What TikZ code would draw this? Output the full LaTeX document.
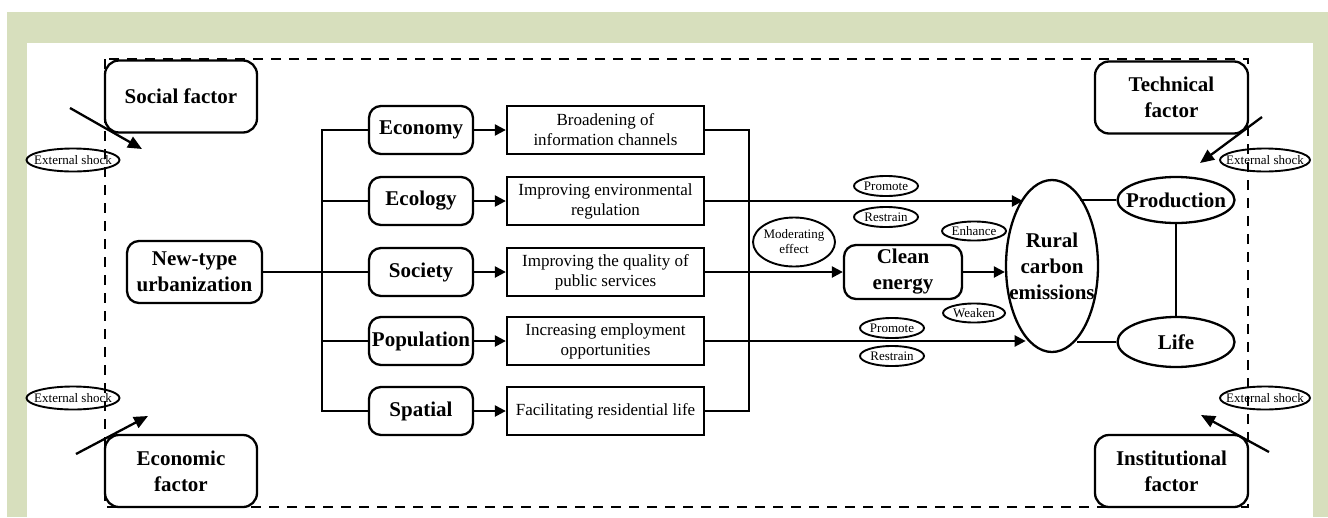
\documentclass[tikz,border=0pt]{standalone}
\usepackage{fontspec}
\setmainfont{Liberation Serif}
\usetikzlibrary{shapes.geometric,arrows.meta}
\definecolor{panel}{RGB}{215,223,189}
\newcommand\lblbig{\fontsize{21}{26}\selectfont\bfseries}
\newcommand\lblmid{\fontsize{17}{20}\selectfont}
\newcommand\lbltag{\fontsize{13}{15}\selectfont}
\begin{document}
\begin{tikzpicture}[x=1pt,y=-1pt,
  factor/.style={draw,line width=2.3pt,rounded corners=14pt,inner sep=0pt,align=center,font=\lblbig,minimum width=152pt,minimum height=72pt},
  dimbox/.style={draw,line width=2.3pt,rounded corners=12pt,inner sep=0pt,align=center,font=\lblbig,minimum width=104pt,minimum height=48pt},
  mechbox/.style={draw,line width=2.3pt,inner sep=0pt,align=center,font=\lblmid,minimum width=197pt,minimum height=48pt},
  oval/.style={draw,ellipse,line width=1.9pt,inner sep=0pt},
  tagtxt/.style={font=\lbltag,align=center,inner sep=0pt},
  bigtxt/.style={font=\lblbig,align=center,inner sep=0pt},
  link/.style={line width=2.3pt},
  arr/.style={line width=2.3pt,-{Triangle[length=11pt,width=11pt]}},
  shock/.style={line width=2.3pt,-{Triangle[length=14pt,width=12pt]}}]
\useasboundingbox (0,0) rectangle (1328,517);
% frame and panel
\fill[panel] (7,12) rectangle (1328,517);
\fill[white] (27,43) rectangle (1313,517);
\draw[line width=2.3pt,dash pattern=on 10pt off 8pt] (105,59) rectangle (1248,507);

% corner factors
\node[factor] (social) at (181,96.5) {Social factor};
\node[factor] (economic) at (181,471) {Economic\\factor};
\node[factor,minimum width=153pt] (technical) at (1171.5,97.5) {Technical\\factor};
\node[factor,minimum width=153pt] (institutional) at (1171.5,471) {Institutional\\factor};

% external shocks
\node[oval,minimum width=93pt,minimum height=23pt,label={[tagtxt]center:External shock}] (shockA) at (73,160) {};
\node[oval,minimum width=93pt,minimum height=23pt,label={[tagtxt]center:External shock}] (shockB) at (73,398) {};
\node[oval,minimum width=90pt,minimum height=23pt,label={[tagtxt]center:External shock}] (shockC) at (1265,160) {};
\node[oval,minimum width=90pt,minimum height=23pt,label={[tagtxt]center:External shock}] (shockD) at (1265,398) {};
\coordinate (sAfrom) at (70,108);   \coordinate (sAto) at (142,149);
\coordinate (sBfrom) at (76,454);   \coordinate (sBto) at (148,416);
\coordinate (sCfrom) at (1262,117); \coordinate (sCto) at (1200,163);
\coordinate (sDfrom) at (1269,452); \coordinate (sDto) at (1201,415);
\draw[shock] (sAfrom) -- (sAto);
\draw[shock] (sBfrom) -- (sBto);
\draw[shock] (sCfrom) -- (sCto);
\draw[shock] (sDfrom) -- (sDto);

% urbanization and its dimensions
\node[dimbox,minimum width=135pt,minimum height=62pt] (urban) at (194.5,272) {New-type\\urbanization};
\node[dimbox] (economy) at (421,130) {Economy};
\node[dimbox] (ecology) at (421,201) {Ecology};
\node[dimbox] (society) at (421,272) {Society};
\node[dimbox] (population) at (421,341) {Population};
\node[dimbox] (spatial) at (421,411) {Spatial};

% mechanisms
\node[mechbox] (info) at (605.5,130) {Broadening of\\information channels};
\node[mechbox] (envreg) at (605.5,201) {Improving environmental\\regulation};
\node[mechbox] (pubserv) at (605.5,272) {Improving the quality of\\public services};
\node[mechbox] (employ) at (605.5,341) {Increasing employment\\opportunities};
\node[mechbox] (reside) at (605.5,411) {Facilitating residential life};

% outcomes
\node[dimbox,minimum width=118pt,minimum height=54pt] (clean) at (903,272) {Clean\\energy};
\node[oval,line width=2.3pt,minimum width=92pt,minimum height=172pt,label={[bigtxt]center:Rural\\carbon\\emissions}] (rural) at (1052,266) {};
\node[oval,line width=2.3pt,minimum width=117pt,minimum height=46pt,label={[bigtxt]center:Production}] (production) at (1176,200) {};
\node[oval,line width=2.3pt,minimum width=117pt,minimum height=50pt,label={[bigtxt]center:Life}] (life) at (1176,342) {};

% effect tags
\node[oval,minimum width=64pt,minimum height=20pt,label={[tagtxt]center:Promote}] (promoteA) at (886,186) {};
\node[oval,minimum width=64pt,minimum height=20pt,label={[tagtxt]center:Restrain}] (restrainA) at (886,217) {};
\node[oval,minimum width=82pt,minimum height=49pt,label={[tagtxt]center:Moderating\\effect}] (moder) at (794,242) {};
\node[oval,minimum width=64pt,minimum height=19pt,label={[tagtxt]center:Enhance}] (enhance) at (974,231) {};
\node[oval,minimum width=62pt,minimum height=19pt,label={[tagtxt]center:Weaken}] (weaken) at (974,313) {};
\node[oval,minimum width=64pt,minimum height=20pt,label={[tagtxt]center:Promote}] (promoteB) at (892,328) {};
\node[oval,minimum width=64pt,minimum height=20pt,label={[tagtxt]center:Restrain}] (restrainB) at (892,356) {};

% left trunk
\draw[link] (urban.east) -- (society.west);
\draw[link] (economy.west) -- ++(-46,0) coordinate (ltop) |- (spatial.west);
\foreach \n in {ecology,population} \draw[link] (\n.west) -- (\n.west -| ltop);

% dimension -> mechanism
\foreach \a/\b in {economy/info,ecology/envreg,society/pubserv,population/employ,spatial/reside}
  \draw[arr] (\a.east) -- (\b.west);

% right trunk
\draw[link] (info.east) -- ++(44,0) coordinate (rtop) |- (reside.east);

% paths to emissions
\draw[arr] (envreg.east) -- (envreg.east -| rural.113);
\draw[arr] (pubserv.east) -- (clean.west);
\draw[arr] (clean.east) -- (clean.east -| rural.west);
\draw[arr] (employ.east) -- (employ.east -| rural.250);
\draw[link] (production.west) -- (production.west -| rural.68);
\draw[link] (life.west) -- (life.west -| rural.289);
\draw[link] (production.south) -- (life.north);
\end{tikzpicture}
\end{document}
